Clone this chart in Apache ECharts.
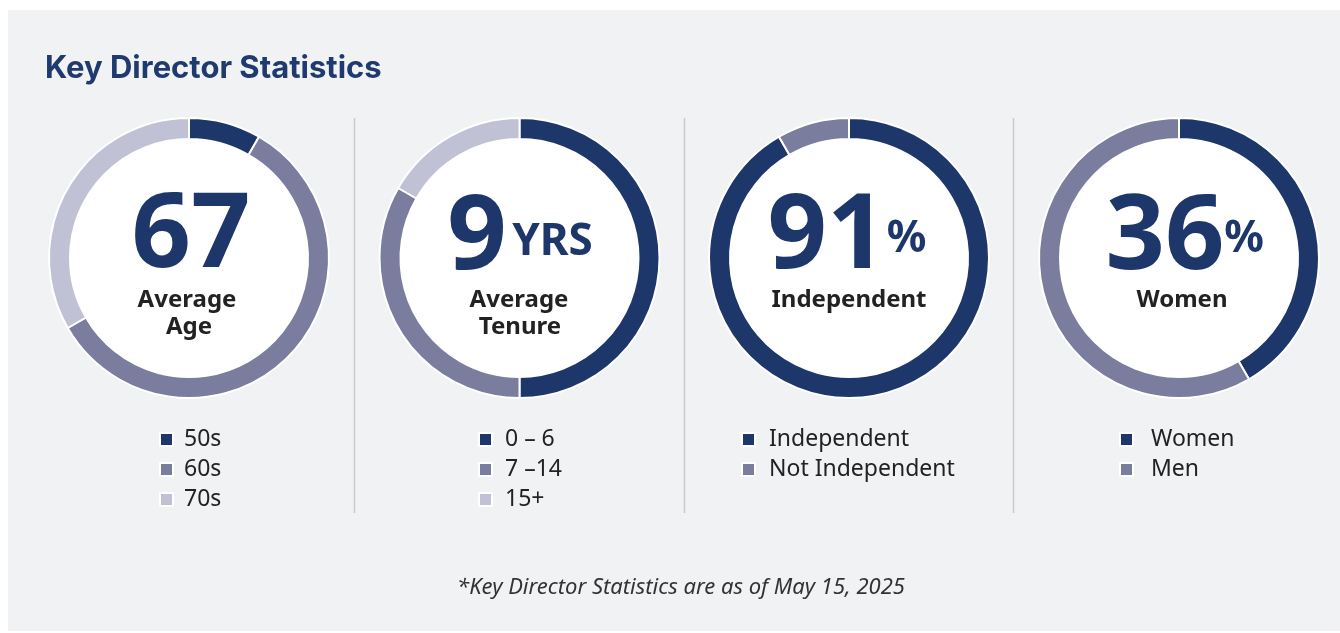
<!DOCTYPE html>
<html>
<head>
<meta charset="utf-8">
<script src="https://cdn.jsdelivr.net/npm/echarts@6/dist/echarts.min.js"></script>
<style>
html,body{margin:0;padding:0;background:#fff;}
#chart{width:1340px;height:633px;}
</style>
</head>
<body>
<div id="chart"></div>
<script>
// ---- data (counts of directors, read from ring arcs) ----
const ageCats = ['50s', '60s', '70s'];
const ageVals = [1, 7, 4];
const tenureCats = ['0 – 6', '7 –14', '15+'];
const tenureVals = [6, 4, 2];
const indepCats = ['Independent', 'Not Independent'];
const indepVals = [11, 1];
const genderCats = ['Women', 'Men'];
const genderVals = [5, 7];

const headlineNums = ['67', '9', '91', '36'];
const headlineSuffix = ['', 'YRS', '%', '%'];
const headlineLabels = [['Average', 'Age'], ['Average', 'Tenure'], ['Independent'], ['Women']];

const titleText = 'Key Director Statistics';
const footnoteText = '*Key Director Statistics are as of May 15, 2025';

// ---- styles / layout ----
const DARK = '#1e376b', MID = '#7b7d9f', LIGHT = '#c1c1d5';
const palette3 = [DARK, MID, LIGHT];
const centersX = [189, 519.5, 849, 1179];
const centerY = 258;
const R_IN = 119, R_OUT = 140;

const groups = [
  {name: 'Age', cats: ageCats, vals: ageVals},
  {name: 'Tenure', cats: tenureCats, vals: tenureVals},
  {name: 'Independence', cats: indepCats, vals: indepVals},
  {name: 'Gender', cats: genderCats, vals: genderVals}
];

const series = groups.map((g, i) => ({
  type: 'pie',
  name: g.name,
  center: [centersX[i], centerY],
  radius: [R_IN, R_OUT],
  startAngle: 90,
  clockwise: true,
  silent: true,
  label: {show: false},
  labelLine: {show: false},
  emphasis: {disabled: true},
  itemStyle: {borderColor: '#ffffff', borderWidth: 2},
  data: g.cats.map((c, k) => ({name: c, value: g.vals[k], itemStyle: {color: palette3[k]}}))
}));

const legendLeft = [159, 478, 741, 1119];
const legendPad = [6, 8, 9, 13];
const legends = groups.map((g, i) => ({
  data: g.cats,
  orient: 'vertical',
  left: legendLeft[i],
  top: 427,
  padding: 0,
  icon: 'rect',
  itemWidth: 13,
  itemHeight: 13,
  itemGap: 5,
  selectedMode: false,
  textStyle: {
    fontFamily: 'Noto Sans',
    fontSize: 23,
    lineHeight: 25,
    color: '#222222',
    padding: [0, 0, 0, legendPad[i]]
  }
}));

// headline layout
const numX = [191, 477, 827, 1165];
const numY = [237.5, 239.5, 238.5, 239.5];
const sufX = [0, 552.5, 906.5, 1244];
const sufY = [0, 242, 239, 239.5];
const labelX = [[187, 189], [519, 520], [849], [1182]];
const labelY = [300, 327];

const graphics = [];
graphics.push({type: 'rect', z: -10, shape: {x: 8, y: 10, width: 1332, height: 621}, style: {fill: '#f1f2f4'}, silent: true});
centersX.forEach(cx => {
  graphics.push({type: 'circle', z: -5, shape: {cx: cx, cy: centerY, r: R_IN - 0.5}, style: {fill: '#ffffff'}, silent: true});
});
[354.5, 684.5, 1013.5].forEach(x => {
  graphics.push({type: 'line', z: -5, shape: {x1: x, y1: 118, x2: x, y2: 513}, style: {stroke: '#c9cacd', lineWidth: 1.5}, silent: true});
});
graphics.push({type: 'text', x: 45, y: 69, silent: true,
  style: {text: titleText, fontFamily: 'Inter', fontWeight: 700, fontSize: 31, fill: '#1f3a6e', align: 'left', verticalAlign: 'middle'}});
headlineNums.forEach((n, i) => {
  graphics.push({type: 'text', x: numX[i], y: numY[i], silent: true,
    style: {text: n, fontFamily: 'Noto Sans', fontWeight: 700, fontSize: 104, fill: DARK, align: 'center', verticalAlign: 'middle'}});
  if (headlineSuffix[i]) {
    graphics.push({type: 'text', x: sufX[i], y: sufY[i], silent: true,
      style: {text: headlineSuffix[i], fontFamily: 'Noto Sans', fontWeight: 700, fontSize: 44, fill: DARK, align: 'center', verticalAlign: 'middle'}});
  }
  headlineLabels[i].forEach((line, k) => {
    graphics.push({type: 'text', x: labelX[i][k], y: labelY[k], silent: true,
      style: {text: line, fontFamily: 'Noto Sans', fontWeight: 700, fontSize: 24, fill: '#222222', align: 'center', verticalAlign: 'middle'}});
  });
});
graphics.push({type: 'text', x: 681, y: 587.5, silent: true,
  style: {text: footnoteText, fontFamily: 'Noto Sans', fontStyle: 'italic', fontSize: 22, fill: '#333333', align: 'center', verticalAlign: 'middle'}});

const chart = echarts.init(document.getElementById('chart'), null, {renderer: 'canvas'});
chart.setOption({
  animation: false,
  backgroundColor: '#ffffff',
  legend: legends,
  series: series,
  graphic: {elements: graphics}
});
</script>
</body>
</html>
